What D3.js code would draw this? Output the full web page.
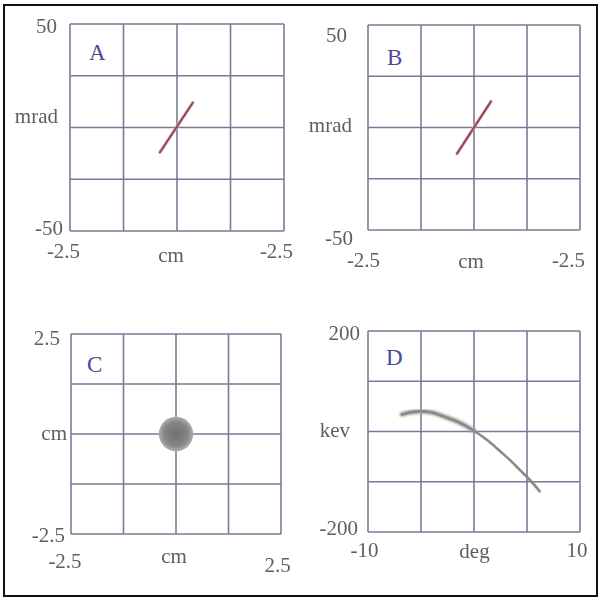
<!DOCTYPE html>
<html>
<head>
<meta charset="utf-8">
<script src="https://cdn.jsdelivr.net/npm/d3@7"></script>
<style>
  html, body { margin: 0; padding: 0; background: #fff; }
  svg text { font-family: "Liberation Serif", "DejaVu Serif", serif; }
</style>
</head>
<body>
<div id="chart"></div>
<script>
// panel letters and axes
var panelNames = ["A", "B", "C", "D"];
var xDomains = [[-2.5, 2.5], [-2.5, 2.5], [-2.5, 2.5], [-10, 10]];
var yDomains = [[-50, 50], [-50, 50], [-2.5, 2.5], [-200, 200]];
var xTickLabels = [["-2.5", "-2.5"], ["-2.5", "-2.5"], ["-2.5", "2.5"], ["-10", "10"]];
var yTickLabels = [["-50", "50"], ["-50", "50"], ["-2.5", "2.5"], ["-200", "200"]];
var xTitles = ["cm", "cm", "cm", "deg"];
var yTitles = ["mrad", "mrad", "cm", "kev"];

// A, B: phase space line (cm, mrad)
var lineA = [[-0.40, -12], [0.37, 12]];
var lineB = [[-0.40, -12.7], [0.40, 12.7]];
// C: beam spot (cm)
var spotC = [0, 0];
var spotRadiusC = 0.41;
// D: energy vs phase (deg, keV)
var curveDeg = [-6.8, -6.0, -5.1, -4.0, -2.6, -1.2, 0.1, 1.3, 2.45, 3.4, 4.3, 5.3, 6.2];
var curveKev = [34, 38, 40, 38, 28, 16, 0, -18, -39, -57, -76, -97, -119];

/* layout for each panel: plot box and where the labels sit */
var layout = [
    {x0: 70, x1: 284, y0: 24, y1: 231,
     yTop: [57, 33], yTitle: [58, 123], yBot: [63, 235],
     xLeft: [63.5, 258], xTitle: [171, 262], xRight: [276.5, 258], letter: [89, 60]},
    {x0: 368, x1: 580, y0: 25, y1: 230,
     yTop: [347, 42], yTitle: [352, 132], yBot: [353, 245],
     xLeft: [363.5, 267], xTitle: [471, 268], xRight: [568.5, 267], letter: [387, 65]},
    {x0: 71, x1: 281, y0: 334, y1: 534,
     yTop: [60, 345], yTitle: [67, 440], yBot: [65, 542],
     xLeft: [65, 568], xTitle: [174, 563], xRight: [277.5, 572], letter: [87, 372]},
    {x0: 368, x1: 580, y0: 331, y1: 532,
     yTop: [360, 340], yTitle: [350, 437], yBot: [358, 535],
     xLeft: [364.5, 557], xTitle: [474.5, 558], xRight: [577, 557], letter: [386, 365]}
];

var width = 601, height = 598;
var svg = d3.select("#chart").append("svg")
    .attr("width", width)
    .attr("height", height);

var defs = svg.append("defs");
defs.append("filter").attr("id", "soft")
    .append("feGaussianBlur").attr("stdDeviation", 0.6);
defs.append("filter").attr("id", "softer")
    .append("feGaussianBlur").attr("stdDeviation", 1.0);
defs.append("filter").attr("id", "txtblur")
    .append("feGaussianBlur").attr("stdDeviation", 0.25);
var grad = defs.append("radialGradient").attr("id", "spot");
grad.append("stop").attr("offset", "0%").attr("stop-color", "#707070");
grad.append("stop").attr("offset", "70%").attr("stop-color", "#858585");
grad.append("stop").attr("offset", "100%").attr("stop-color", "#b0b0b0");

// outer frame
svg.append("rect")
    .attr("x", 4).attr("y", 5)
    .attr("width", 593).attr("height", 591)
    .attr("fill", "none")
    .attr("stroke", "#111")
    .attr("stroke-width", 2);

var gridColor = "#7a7a96";
var textColor = "#5e5e5e";
var scales = [];

panelNames.forEach(function(name, i) {
    var L = layout[i];
    var x = d3.scaleLinear().domain(xDomains[i]).range([L.x0, L.x1]);
    var y = d3.scaleLinear().domain(yDomains[i]).range([L.y1, L.y0]);
    scales.push({x: x, y: y});
    var g = svg.append("g").attr("class", "panel");

    // 4 x 4 grid
    var xs = d3.range(5).map(function(k) { return xDomains[i][0] + k * (xDomains[i][1] - xDomains[i][0]) / 4; });
    var ys = d3.range(5).map(function(k) { return yDomains[i][0] + k * (yDomains[i][1] - yDomains[i][0]) / 4; });
    g.selectAll(".vgrid").data(xs).enter().append("line")
        .attr("x1", function(d) { return x(d); })
        .attr("x2", function(d) { return x(d); })
        .attr("y1", L.y0).attr("y2", L.y1)
        .attr("stroke", gridColor).attr("stroke-width", 1.6);
    g.selectAll(".hgrid").data(ys).enter().append("line")
        .attr("y1", function(d) { return y(d); })
        .attr("y2", function(d) { return y(d); })
        .attr("x1", L.x0).attr("x2", L.x1)
        .attr("stroke", gridColor).attr("stroke-width", 1.6);

    var txt = function(pos, str, anchor) {
        g.append("text")
            .attr("x", pos[0]).attr("y", pos[1])
            .attr("text-anchor", anchor)
            .attr("font-size", 21)
            .attr("fill", textColor)
            .attr("filter", "url(#txtblur)")
            .text(str);
    };
    txt(L.yTop, yTickLabels[i][1], "end");
    txt(L.yTitle, yTitles[i], "end");
    txt(L.yBot, yTickLabels[i][0], "end");
    txt(L.xLeft, xTickLabels[i][0], "middle");
    txt(L.xTitle, xTitles[i], "middle");
    txt(L.xRight, xTickLabels[i][1], "middle");

    g.append("text")
        .attr("x", L.letter[0]).attr("y", L.letter[1])
        .attr("font-size", 23)
        .attr("fill", "#4a4a94")
        .text(name);
});

// A and B lines
[lineA, lineB].forEach(function(pts, i) {
    var s = scales[i];
    var line = d3.line()
        .x(function(d) { return s.x(d[0]); })
        .y(function(d) { return s.y(d[1]); });
    svg.append("path")
        .datum(pts)
        .attr("d", line)
        .attr("fill", "none")
        .attr("stroke", "#d09aa4")
        .attr("stroke-width", 3.2)
        .attr("stroke-linecap", "round")
        .attr("filter", "url(#soft)");
    svg.append("path")
        .datum(pts)
        .attr("d", line)
        .attr("fill", "none")
        .attr("stroke", "#8e4050")
        .attr("stroke-width", 1.6)
        .attr("stroke-linecap", "round");
});

// C beam spot
var sc = scales[2];
svg.append("circle")
    .attr("cx", sc.x(spotC[0]))
    .attr("cy", sc.y(spotC[1]))
    .attr("r", sc.x(spotRadiusC) - sc.x(0))
    .attr("fill", "url(#spot)")
    .attr("filter", "url(#soft)");

// D curve
var sd = scales[3];
var curveData = curveDeg.map(function(d, k) { return [d, curveKev[k]]; });
var curveLine = d3.line()
    .curve(d3.curveCatmullRom)
    .x(function(d) { return sd.x(d[0]); })
    .y(function(d) { return sd.y(d[1]); });
svg.append("path")
    .datum(curveData.slice(0, 7))
    .attr("d", curveLine)
    .attr("fill", "none")
    .attr("stroke", "#a8a8a8")
    .attr("stroke-width", 5)
    .attr("stroke-linecap", "round")
    .attr("filter", "url(#softer)");
svg.append("path")
    .datum(curveData)
    .attr("d", curveLine)
    .attr("fill", "none")
    .attr("stroke", "#8a8a8a")
    .attr("stroke-width", 2.6)
    .attr("stroke-linecap", "round")
    .attr("filter", "url(#soft)");
</script>
</body>
</html>
